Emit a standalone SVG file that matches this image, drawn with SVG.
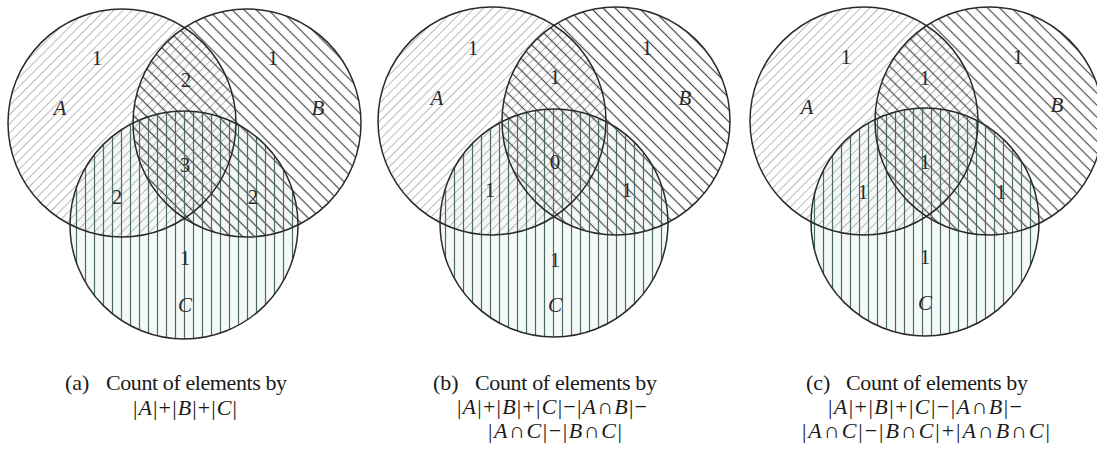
<svg xmlns="http://www.w3.org/2000/svg" width="1097" height="453" viewBox="0 0 1097 453">
<defs>
<pattern id="hatchA" patternUnits="userSpaceOnUse" width="6.5" height="6" patternTransform="rotate(45)"><line x1="3.25" y1="-1" x2="3.25" y2="7" stroke="#b8b8b8" stroke-width="1"/></pattern>
<pattern id="hatchB" patternUnits="userSpaceOnUse" width="8.5" height="6" patternTransform="rotate(-45)"><line x1="4.25" y1="-1" x2="4.25" y2="7" stroke="#4a4a4a" stroke-width="1.2"/></pattern>
<pattern id="hatchC" patternUnits="userSpaceOnUse" width="9" height="10"><line x1="4.5" y1="-1" x2="4.5" y2="11" stroke="#4d6b66" stroke-width="1.2"/></pattern>
</defs>
<style>
.tint{fill:#f4f9f8;stroke:none}
.ha{fill:url(#hatchA);stroke:none}
.hb{fill:url(#hatchB);stroke:none}
.hc{fill:url(#hatchC);stroke:none}
.ring{fill:none;stroke:#2a2a2a;stroke-width:1.5}
.lbl{font-family:"Liberation Serif","Times New Roman",serif;font-size:21px;fill:#2a2a2a;text-anchor:middle}
.it{font-style:italic}
.cap{font-family:"Liberation Serif","Times New Roman",serif;font-size:22px;fill:#1a1a1a}
.math{font-family:"Liberation Serif","Times New Roman",serif;font-size:22px;fill:#1a1a1a;text-anchor:middle}
</style>
<rect width="1097" height="453" fill="#ffffff"/>

<!-- Diagram (a) -->
<g id="diagram-a">
  <circle class="tint" cx="184" cy="225" r="114"/>
  <g id="a-setA"><circle class="ha" cx="122" cy="123" r="114"/></g>
  <g id="a-setB"><circle class="hb" cx="247" cy="123" r="114"/></g>
  <g id="a-setC"><circle class="hc" cx="184" cy="225" r="114"/></g>
  <circle class="ring" cx="122" cy="123" r="114"/>
  <circle class="ring" cx="247" cy="123" r="114"/>
  <circle class="ring" cx="184" cy="225" r="114"/>
  <g id="a-labels">
    <text class="lbl" x="97" y="65">1</text>
    <text class="lbl it" x="60" y="115">A</text>
    <text class="lbl" x="186" y="87">2</text>
    <text class="lbl" x="273" y="65">1</text>
    <text class="lbl it" x="318" y="115">B</text>
    <text class="lbl" x="185" y="172">3</text>
    <text class="lbl" x="117" y="204">2</text>
    <text class="lbl" x="253" y="204">2</text>
    <text class="lbl" x="185" y="265">1</text>
    <text class="lbl it" x="185" y="312">C</text>
  </g>
  <g id="a-caption">
    <text class="cap" x="65" y="390">(a)</text>
    <text class="cap" x="106" y="390" textLength="181" lengthAdjust="spacing">Count of elements by</text>
    <text class="math" x="185" y="415" textLength="104" lengthAdjust="spacing">|<tspan class="it">A</tspan>|+|<tspan class="it">B</tspan>|+|<tspan class="it">C</tspan>|</text>
  </g>
</g>

<!-- Diagram (b) -->
<g id="diagram-b">
  <circle class="tint" cx="554" cy="223" r="114"/>
  <g id="b-setA"><circle class="ha" cx="492" cy="121" r="114"/></g>
  <g id="b-setB"><circle class="hb" cx="616" cy="121" r="114"/></g>
  <g id="b-setC"><circle class="hc" cx="554" cy="223" r="114"/></g>
  <circle class="ring" cx="492" cy="121" r="114"/>
  <circle class="ring" cx="616" cy="121" r="114"/>
  <circle class="ring" cx="554" cy="223" r="114"/>
  <g id="b-labels">
    <text class="lbl" x="473" y="55">1</text>
    <text class="lbl it" x="437" y="105">A</text>
    <text class="lbl" x="555" y="84">1</text>
    <text class="lbl" x="647" y="55">1</text>
    <text class="lbl it" x="685" y="105">B</text>
    <text class="lbl" x="555" y="169">0</text>
    <text class="lbl" x="490" y="197">1</text>
    <text class="lbl" x="627" y="197">1</text>
    <text class="lbl" x="555" y="267">1</text>
    <text class="lbl it" x="555" y="312">C</text>
  </g>
  <g id="b-caption">
    <text class="cap" x="433" y="390">(b)</text>
    <text class="cap" x="475" y="390" textLength="182" lengthAdjust="spacing">Count of elements by</text>
    <text class="math" x="552" y="414" textLength="190" lengthAdjust="spacing">|<tspan class="it">A</tspan>|+|<tspan class="it">B</tspan>|+|<tspan class="it">C</tspan>|−|<tspan class="it">A</tspan>∩<tspan class="it">B</tspan>|−</text>
    <text class="math" x="555" y="438" textLength="134" lengthAdjust="spacing">|<tspan class="it">A</tspan>∩<tspan class="it">C</tspan>|−|<tspan class="it">B</tspan>∩<tspan class="it">C</tspan>|</text>
  </g>
</g>

<!-- Diagram (c) -->
<g id="diagram-c">
  <circle class="tint" cx="925" cy="222" r="114"/>
  <g id="c-setA"><circle class="ha" cx="864" cy="121" r="114"/></g>
  <g id="c-setB"><circle class="hb" cx="989" cy="121" r="114"/></g>
  <g id="c-setC"><circle class="hc" cx="925" cy="222" r="114"/></g>
  <circle class="ring" cx="864" cy="121" r="114"/>
  <circle class="ring" cx="989" cy="121" r="114"/>
  <circle class="ring" cx="925" cy="222" r="114"/>
  <g id="c-labels">
    <text class="lbl" x="846" y="64">1</text>
    <text class="lbl it" x="807" y="114">A</text>
    <text class="lbl" x="925" y="85">1</text>
    <text class="lbl" x="1018" y="64">1</text>
    <text class="lbl it" x="1057" y="112">B</text>
    <text class="lbl" x="925" y="169">1</text>
    <text class="lbl" x="863" y="199">1</text>
    <text class="lbl" x="1001" y="199">1</text>
    <text class="lbl" x="925" y="264">1</text>
    <text class="lbl it" x="925" y="310">C</text>
  </g>
  <g id="c-caption">
    <text class="cap" x="806" y="390">(c)</text>
    <text class="cap" x="846" y="390" textLength="182" lengthAdjust="spacing">Count of elements by</text>
    <text class="math" x="925" y="414" textLength="194" lengthAdjust="spacing">|<tspan class="it">A</tspan>|+|<tspan class="it">B</tspan>|+|<tspan class="it">C</tspan>|−|<tspan class="it">A</tspan>∩<tspan class="it">B</tspan>|−</text>
    <text class="math" x="926" y="438" textLength="248" lengthAdjust="spacing">|<tspan class="it">A</tspan>∩<tspan class="it">C</tspan>|−|<tspan class="it">B</tspan>∩<tspan class="it">C</tspan>|+|<tspan class="it">A</tspan>∩<tspan class="it">B</tspan>∩<tspan class="it">C</tspan>|</text>
  </g>
</g>
</svg>
